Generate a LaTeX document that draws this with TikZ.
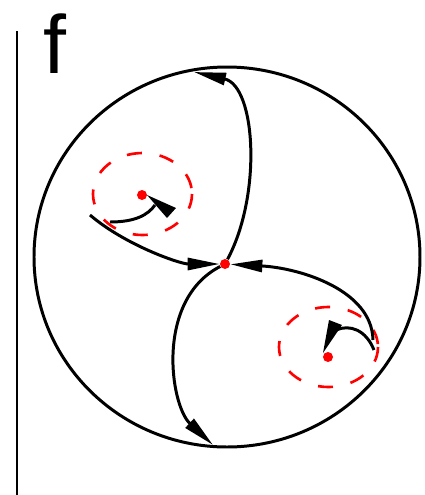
\documentclass[tikz,border=0pt]{standalone}
\usepackage{fontspec}
\setmainfont{Liberation Sans}
\usetikzlibrary{arrows.meta}

\begin{document}
\begin{tikzpicture}[x=0.02cm, y=-0.02cm,
    orbit/.style={line width=1.7pt, draw=borderColour},
    flow/.style={orbit, -{Triangle[length=0.64cm, width=0.24cm]}},
    fixedpt/.style={circle, fill=dotColour, inner sep=0pt, minimum size=0.2cm},
    ring/.style={draw=dotColour, line width=1.5pt, dash pattern=on 0.3cm off 0.36cm}]
    \definecolor{borderColour}{HTML}{000000}
    \definecolor{dotColour}{HTML}{FF0000}

    \useasboundingbox (0,0) rectangle (425,495);

    % Panel label and side rule
    \node[font=\fontsize{47}{47}\selectfont, inner sep=0pt, anchor=base] (panel) at (55,73) {f};
    \coordinate (ruleTop) at (17,31);
    \coordinate (ruleBottom) at (17,495);
    \draw[line width=1.1pt] (ruleTop) -- (ruleBottom);

    % Fixed points
    \node[fixedpt] (saddle) at (225,264) {};
    \node[fixedpt] (focusA) at (142,195) {};
    \node[fixedpt] (focusB) at (328,357) {};

    % Boundary circle
    \coordinate (O) at (227,257);
    \draw[orbit] (O) ellipse [x radius=193, y radius=190];

    % Dashed neighbourhoods
    \coordinate (ringA) at (142.5,194);
    \coordinate (ringB) at (328.5,347);
    \draw[ring] (ringA) ellipse [x radius=49.5, y radius=41];
    \draw[ring] (ringB) ellipse [x radius=49.5, y radius=40];

    % Separatrices
    \coordinate (top) at (194,72);
    \coordinate (bottom) at (213,445);
    \coordinate (left) at (90,215);
    \coordinate (right) at (373,340);

    \draw[flow] (saddle) .. controls (262,195) and (256,86) .. (top);
    \draw[flow] (saddle) .. controls (155,300) and (170,405) .. (bottom);
    \draw[flow] (left) .. controls (125,245) and (180,264) .. (saddle);
    \draw[flow] (right) .. controls (372,290) and (300,268) .. (saddle);

    % Rotation near the foci
    \coordinate (spinA) at (110,222);
    \coordinate (spinB) at (374,350);
    \draw[orbit] (spinA) .. controls (135,222) and (148,215) .. (155,205);
    \fill[borderColour] (147,195) -- (176,208) -- (167,218) -- cycle;
    \draw[orbit] (spinB) .. controls (366,330) and (350,324) .. (336,330);
    \fill[borderColour] (329,320) -- (342,325) -- (323,353) -- cycle;

\end{tikzpicture}
\end{document}
